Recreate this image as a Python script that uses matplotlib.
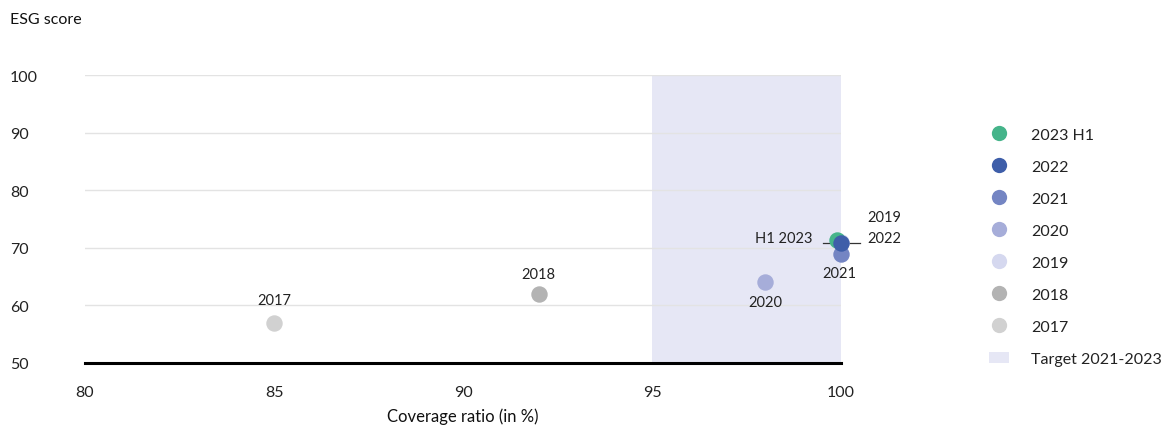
import matplotlib
matplotlib.use("Agg")
import matplotlib.pyplot as plt
from matplotlib.lines import Line2D
from matplotlib.patches import Patch

plt.rcParams['font.family'] = ['Lato', 'DejaVu Sans']

series = ["2023 H1", "2022", "2021", "2020", "2019", "2018", "2017"]
coverage = [99.9, 100, 100, 98, 100, 92, 85]
esg = [71.3, 70.9, 69, 64, 71, 62, 57]
colors = ["#45b48a", "#3e5ea9", "#7485c3", "#a6add9", "#d5d8ef", "#b3b3b3", "#d1d1d1"]
target_range = (95, 100)
target_label = "Target 2021-2023"
x_ticks = [80, 85, 90, 95, 100]
y_ticks = [50, 60, 70, 80, 90, 100]

fig = plt.figure(figsize=(11.75, 4.27), dpi=100)
ax = fig.add_axes([85/1175, 1-364/427, (841-85)/1175, (364-76)/427])
ax.set_xlim(80, 100)
ax.set_ylim(50, 100)

ax.axvspan(target_range[0], target_range[1], color="#e6e7f5", zorder=0, lw=0)
for y in y_ticks[1:]:
    ax.axhline(y, color="#e3e3e3", lw=1, zorder=1)
ax.axhline(50, color="black", lw=2.2, zorder=2, clip_on=False)

# drawing order: 2019 hidden under others; 2022 drawn over 2023 H1
order = [4, 6, 5, 3, 2, 0, 1]
for i in order:
    ax.scatter(coverage[i], esg[i], s=140, color=colors[i], zorder=5, lw=0, clip_on=False)

for s in ax.spines.values():
    s.set_visible(False)
ax.set_xticks(x_ticks)
ax.set_yticks(y_ticks)
ax.tick_params(length=0, labelsize=11.5, colors="#222222")
ax.tick_params(axis='x', pad=16)
for lbl in ax.get_yticklabels():
    lbl.set_horizontalalignment('left')
ax.tick_params(axis='y', pad=54)

def lab(text, x, y, dx, dy, ha="center"):
    ax.annotate(text, (x, y), xytext=(dx, dy), textcoords="offset points",
                ha=ha, va="center", fontsize=10.5, color="#222222", zorder=6)

lab("2017", 85, 57, 0, 16)
lab("2018", 92, 62, 0, 14)
lab("2020", 98, 64, 0, -14)
lab("2021", 100, 69, -1, -14)
lab("H1 2023", 99.9, 71.3, -18, 2, ha="right")
lab("2019", 100, 71, 19, 18, ha="left")
lab("2022", 100, 71, 19, 3, ha="left")
ax.plot([99.52, 100.5], [70.9, 70.9], color="#333333", lw=0.9, zorder=4, clip_on=False)

fig.text(10/1175, 1-20/427, "ESG score", fontsize=11.5, color="#111111", va="center", ha="left")
fig.text(463/1175, 1-417/427, "Coverage ratio (in %)", fontsize=12, color="#111111", va="center", ha="center")

handles = [Line2D([0], [0], marker='o', color='none', markerfacecolor=c, markeredgecolor='none', markersize=11)
           for c in colors]
handles.append(Patch(facecolor="#e6e7f5", edgecolor="none"))
fig.legend(handles, series + [target_label], loc="upper left",
           bbox_to_anchor=(975/1175, 1-114/427), frameon=False, fontsize=11.5,
           labelspacing=1.12, handlelength=1.2, handletextpad=1.4, labelcolor="#222222")

fig.savefig("out.png", dpi=100)
